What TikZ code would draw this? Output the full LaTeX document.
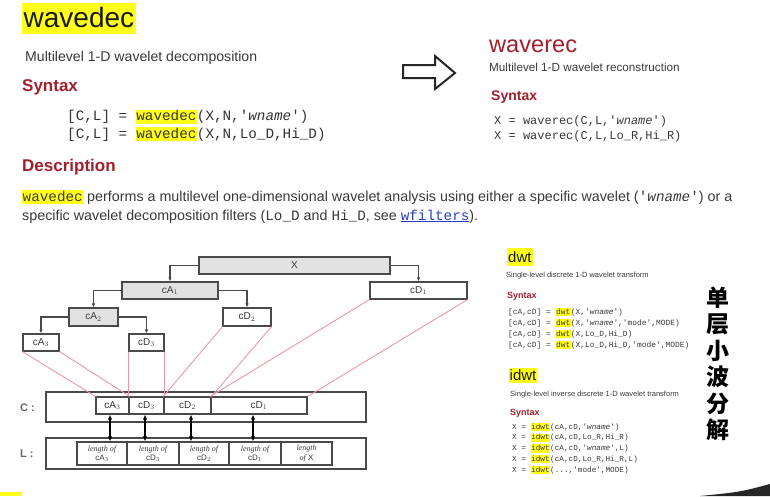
\documentclass[tikz,border=0pt]{standalone}
\usepackage{fontspec}
\setmainfont{Liberation Sans}
\setmonofont{Liberation Mono}
\newfontfamily\cjk{Noto Sans CJK SC}
\newfontfamily\lenfont{Liberation Serif}
\usepackage{xcolor}
\definecolor{cHead}{HTML}{A0202E}
\definecolor{cText}{HTML}{3A3A3A}
\definecolor{cBox}{HTML}{4A4A4A}
\definecolor{cFill}{HTML}{E2E2E2}
\definecolor{cLink}{HTML}{2B3FC4}
\definecolor{cPink}{HTML}{E89AA6}
\definecolor{hlYellow}{HTML}{FFFF1A}
\usetikzlibrary{positioning,arrows.meta,calc}
\newcommand{\hlbox}[1]{{\setlength{\fboxsep}{0.5pt}\colorbox{hlYellow}{\rule[-0.2em]{0pt}{0.72em}#1}}}
\newcommand{\fs}[1]{\fontsize{#1}{#1}\selectfont}
\newcommand{\fsl}[2]{\fontsize{#1}{#2}\selectfont}
\tikzset{
  txt/.style={anchor=base west,inner sep=0pt,text=cText},
  head/.style={anchor=base west,inner sep=0pt,text=cHead,font=\bfseries},
  % multi-line: placed at the baseline of the last line
  code/.style={anchor=base west,inner sep=0pt,text=cText,align=left},
  tree-box/.style={draw=cBox,line width=1.2pt,inner sep=0pt,text=cText,font=\fs{10}},
  tree-approx/.style={tree-box,fill=cFill},
  array-box/.style={draw=cBox,line width=1.2pt,inner sep=0pt},
  cell-box/.style={draw=cBox,line width=1.2pt,inner sep=0pt,text=cText,font=\fs{10}},
  len-box/.style={draw=cBox,line width=1.2pt,inner sep=0pt,text=cText,align=center,font=\fsl{8}{9.2}},
  arrow/.style={-{Latex[length=4pt,width=3.5pt]},line width=1.1pt,draw=cBox},
  arrow-both/.style={{Latex[length=5pt,width=4.5pt]}-{Latex[length=5pt,width=4.5pt]},line width=1.3pt,draw=black},
  link-pink/.style={draw=cPink,line width=0.9pt},
}
\begin{document}
\begin{tikzpicture}[x=1pt,y=-1pt]
  \useasboundingbox[fill=white] (0,0) rectangle (770,496);
  % wavedec header
  \node[txt,fill=hlYellow,text=black!90,text height=24pt,text depth=7pt,inner xsep=1.5pt,font=\fs{28}] (title) at (22,27) {wavedec};
  \node[txt,font=\fs{14.1}] (sub) at (25,61) {Multilevel 1-D wavelet decomposition};
  \node[head,font=\bfseries\fs{17}] (syn) at (22,91) {Syntax};
  \node[code,font=\ttfamily\fsl{14.3}{17.3},text=black!80] (syncode) at (67,138)
    {{[}C,L] = \hlbox{wavedec}(X,N,'\textit{wname}')\\
     {[}C,L] = \hlbox{wavedec}(X,N,Lo\_D,Hi\_D)};
  \node[head,font=\bfseries\fs{17}] (desc) at (22,171) {Description};
  \node[code,font=\fsl{14.3}{19}] (desctext) at (22,220)
    {{\ttfamily\hlbox{wavedec}} performs a multilevel one-dimensional wavelet analysis using either a specific wavelet ({\ttfamily'\textit{wname}'}) or a\\
     specific wavelet decomposition filters ({\ttfamily Lo\_D} and {\ttfamily Hi\_D}, see {\color{cLink}\ttfamily\underline{wfilters}}).};
  % big arrow
  \draw[line width=2pt,draw=black!85,fill=white,line join=miter]
    (403,65) -- (435,65) -- (435,56) -- (455,73) -- (435,89) -- (435,78) -- (403,78) -- cycle;
  % waverec header
  \node[txt,text=cHead,font=\fs{23.6}] (rtitle) at (489,52) {waverec};
  \node[txt,font=\fs{11.7}] (rsub) at (489,71) {Multilevel 1-D wavelet reconstruction};
  \node[head,font=\bfseries\fs{14}] (rsyn) at (491,100) {Syntax};
  \node[code,font=\ttfamily\fsl{12}{15}] (rcode) at (494,139)
    {X = waverec(C,L,'\textit{wname}')\\
     X = waverec(C,L,Lo\_R,Hi\_R)};
  % decomposition tree
  \node[tree-approx,minimum width=191pt,minimum height=17pt] (x)   at (294.5,265.5) {X};
  \node[tree-approx,minimum width=96pt,minimum height=17pt]  (ca1) at (170,290.5) {cA$_1$};
  \node[tree-box,minimum width=97pt,minimum height=17pt]     (cd1) at (418.5,290.5) {cD$_1$};
  \node[tree-approx,minimum width=49pt,minimum height=18pt]  (ca2) at (93.5,317) {cA$_2$};
  \node[tree-box,minimum width=48pt,minimum height=18pt]     (cd2) at (247,317) {cD$_2$};
  \node[tree-box,minimum width=36pt,minimum height=17pt]     (ca3) at (41,342.5) {cA$_3$};
  \node[tree-box,minimum width=35pt,minimum height=17pt]     (cd3) at (146.5,342.5) {cD$_3$};
  \draw[arrow] (x.west) -| (ca1.north);
  \draw[arrow] (x.east) -| (cd1.north);
  \draw[arrow] (ca1.west) -| (ca2.north);
  \draw[arrow] (ca1.east) -| (cd2.north);
  \draw[arrow] (ca2.west) -| (ca3.north);
  \draw[arrow] (ca2.east) -| (cd3.north);
  % C and L vectors
  \node[txt,font=\bfseries\fs{11},text=black!60] (clab) at (20,411) {C :};
  \node[txt,font=\bfseries\fs{11},text=black!60] (llab) at (20,457) {L :};
  \node[array-box,minimum width=320pt,minimum height=30pt] (carr) at (206,407) {};
  \node[array-box,minimum width=320pt,minimum height=31pt] (larr) at (206,453.5) {};
  \node[cell-box,minimum width=33pt,minimum height=17pt] (cca3) at (112.5,405.5) {cA$_3$};
  \node[cell-box,minimum width=35pt,minimum height=17pt] (ccd3) at (146.5,405.5) {cD$_3$};
  \node[cell-box,minimum width=47pt,minimum height=17pt] (ccd2) at (187.5,405.5) {cD$_2$};
  \node[cell-box,minimum width=96pt,minimum height=17pt] (ccd1) at (259,405.5) {cD$_1$};
  \node[len-box,minimum width=50pt,minimum height=23pt] (l1) at (102,453.5) {{\lenfont\itshape length of}\\cA$_3$};
  \node[len-box,minimum width=52pt,minimum height=23pt] (l2) at (153,453.5) {{\lenfont\itshape length of}\\cD$_3$};
  \node[len-box,minimum width=50pt,minimum height=23pt] (l3) at (204,453.5) {{\lenfont\itshape length of}\\cD$_2$};
  \node[len-box,minimum width=52pt,minimum height=23pt] (l4) at (255,453.5) {{\lenfont\itshape length of}\\cD$_1$};
  \node[len-box,minimum width=51pt,minimum height=23pt] (l5) at (306.5,453.5) {{\lenfont\itshape length}\\{\lenfont\itshape of} X};
  \draw[arrow-both] ([xshift=-2.5pt]cca3.south) -- ([xshift=-2.5pt]cca3.south |- l1.north);
  \draw[arrow-both] ([xshift=-1.5pt]ccd3.south) -- ([xshift=-1.5pt]ccd3.south |- l2.north);
  \draw[arrow-both] ([xshift=3.5pt]ccd2.south) -- ([xshift=3.5pt]ccd2.south |- l3.north);
  \draw[arrow-both] ([xshift=-6pt]ccd1.south) -- ([xshift=-6pt]ccd1.south |- l4.north);
  % where each tree leaf sits in C
  \foreach \src/\dst in {ca3/cca3,cd3/ccd3,cd2/ccd2,cd1/ccd1}{
    \draw[link-pink] (\src.south west) -- (\dst.north west);
    \draw[link-pink] (\src.south east) -- (\dst.north east);
  }
  % dwt
  \node[txt,fill=hlYellow,text=black!90,text height=14pt,text depth=4pt,inner xsep=1pt,font=\fs{15}] (dwt) at (507,262) {dwt};
  \node[txt,font=\fs{7.5}] (dwtsub) at (506,277) {Single-level discrete 1-D wavelet transform};
  \node[head,font=\bfseries\fs{9}] (dwtsyn) at (507,298) {Syntax};
  \node[code,font=\ttfamily\fsl{7.9}{11}] (dwtcode) at (508,347)
    {{[}cA,cD] = \hlbox{dwt}(X,'\textit{wname}')\\
     {[}cA,cD] = \hlbox{dwt}(X,'\textit{wname}','mode',MODE)\\
     {[}cA,cD] = \hlbox{dwt}(X,Lo\_D,Hi\_D)\\
     {[}cA,cD] = \hlbox{dwt}(X,Lo\_D,Hi\_D,'mode',MODE)};
  % idwt
  \node[txt,fill=hlYellow,text=black!90,text height=12pt,text depth=3pt,inner xsep=0.5pt,font=\fs{15}] (idwt) at (509,380) {idwt};
  \node[txt,font=\fs{7.5}] (idwtsub) at (510,396) {Single-level inverse discrete 1-D wavelet transform};
  \node[head,font=\bfseries\fs{9}] (idwtsyn) at (510,415) {Syntax};
  \node[code,font=\ttfamily\fsl{7.7}{10.75}] (idwtcode) at (512,472)
    {X = \hlbox{idwt}(cA,cD,'\textit{wname}')\\
     X = \hlbox{idwt}(cA,cD,Lo\_R,Hi\_R)\\
     X = \hlbox{idwt}(cA,cD,'\textit{wname}',L)\\
     X = \hlbox{idwt}(cA,cD,Lo\_R,Hi\_R,L)\\
     X = \hlbox{idwt}(...,'mode',MODE)};
  % side note
  \node[align=center,inner sep=0pt,font=\cjk\bfseries\fontsize{23}{26.5}\selectfont] (note) at (718,364)
    {单\\层\\小\\波\\分\\解};
  % slide edge
  \fill[black!85] (700,496) .. controls (740,492) .. (770,484) -- (770,496) -- cycle;
  \fill[hlYellow] (0,492) rectangle (22,496);
\end{tikzpicture}
\end{document}
